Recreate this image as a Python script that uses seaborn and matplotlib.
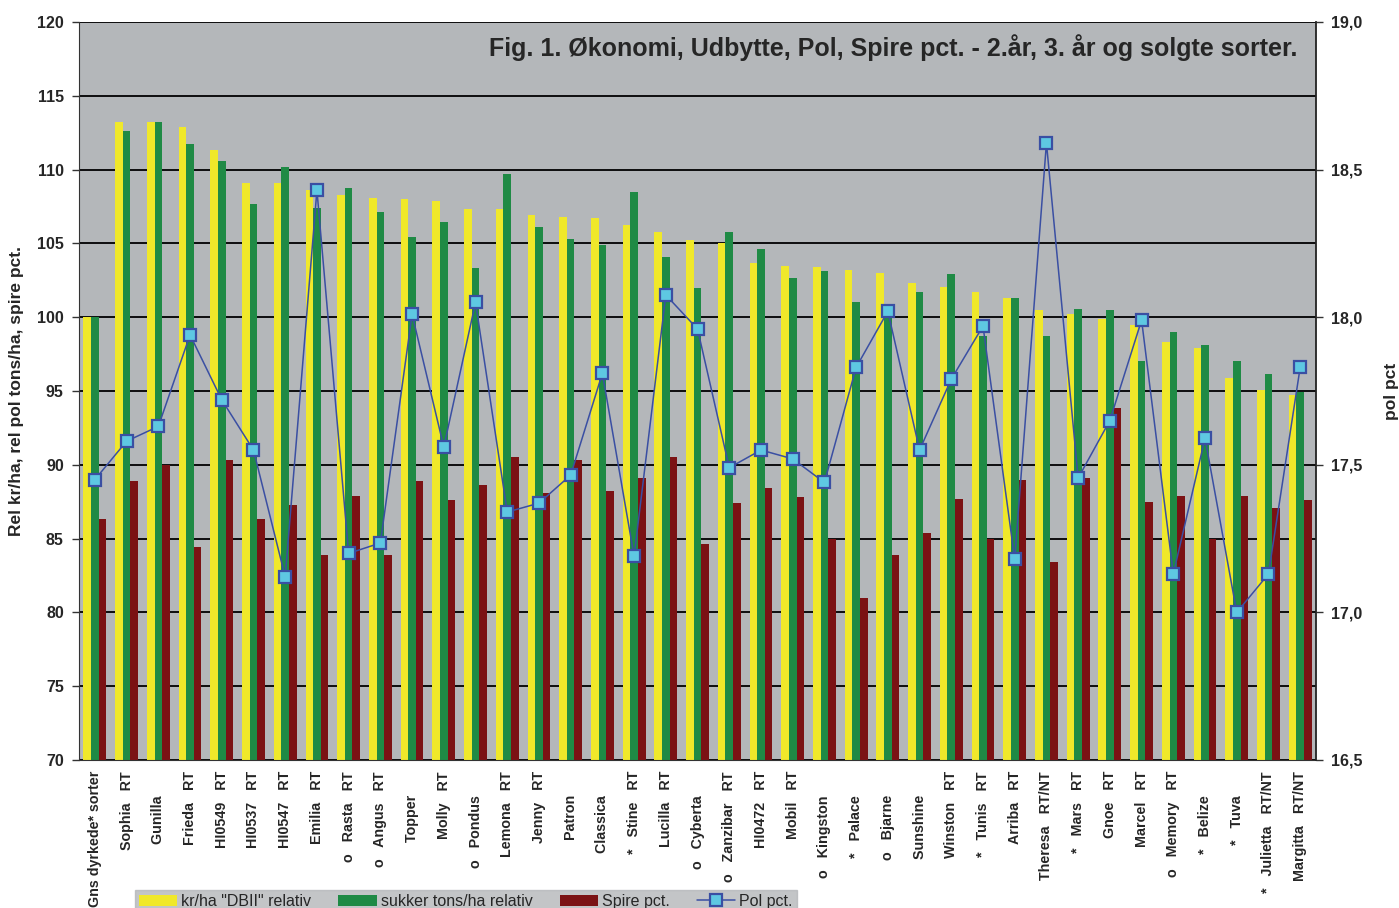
import numpy as np
import pandas as pd
import matplotlib
matplotlib.use("Agg")
import matplotlib.pyplot as plt
import seaborn as sns

sns.set_style("white")
plt.rcParams['font.family'] = ['Liberation Sans', 'DejaVu Sans']

# sort labels (rotated under the axis)
sorter = ["Gns dyrkede* sorter", "Sophia   RT", "Gunilla      ", "Frieda   RT", "HI0549   RT",
          "HI0537   RT", "HI0547   RT", "Emilia   RT", "o   Rasta   RT", "o   Angus   RT",
          "Topper      ", "Molly   RT", "o   Pondus      ", "Lemona   RT", "Jenny   RT",
          "Patron      ", "Classica      ", "*   Stine   RT", "Lucilla   RT", "o   Cyberta      ",
          "o   Zanzibar   RT", "HI0472   RT", "Mobil   RT", "o   Kingston      ", "*   Palace      ",
          "o   Bjarne      ", "Sunshine      ", "Winston   RT", "*   Tunis   RT", "Arriba   RT",
          "Theresa   RT/NT", "*   Mars   RT", "Gnoe   RT", "Marcel   RT", "o   Memory   RT",
          "*   Belize      ", "*   Tuva      ", "*   Julietta   RT/NT", "Margitta   RT/NT"]

kr_ha = [100.0, 113.2, 113.2, 112.9, 111.3, 109.1, 109.1, 108.6, 108.3, 108.1,
         108.0, 107.9, 107.3, 107.3, 106.9, 106.8, 106.7, 106.25, 105.8, 105.2,
         105.0, 103.7, 103.5, 103.4, 103.2, 103.0, 102.3, 102.05, 101.7, 101.3,
         100.5, 100.2, 99.9, 99.5, 98.3, 97.9, 95.9, 95.1, 94.7]
sukker = [100.0, 112.6, 113.2, 111.7, 110.6, 107.7, 110.2, 107.4, 108.75, 107.1,
          105.4, 106.45, 103.3, 109.7, 106.1, 105.3, 104.9, 108.5, 104.1, 102.0,
          105.8, 104.6, 102.65, 103.1, 101.0, 100.3, 101.7, 102.9, 98.7, 101.3,
          98.7, 100.55, 100.5, 97.0, 99.0, 98.1, 97.0, 96.15, 94.9]
spire = [86.3, 88.9, 90.0, 84.4, 90.3, 86.3, 87.3, 83.9, 87.9, 83.9,
         88.9, 87.6, 88.6, 90.5, 88.1, 90.3, 88.2, 89.1, 90.5, 84.6,
         87.4, 88.4, 87.8, 85.0, 81.0, 83.9, 85.4, 87.7, 85.0, 89.0,
         83.4, 89.1, 93.85, 87.5, 87.9, 85.0, 87.9, 87.1, 87.6]
pol = [17.45, 17.58, 17.63, 17.94, 17.72, 17.55, 17.12, 18.43, 17.20, 17.235,
       18.01, 17.56, 18.05, 17.34, 17.37, 17.465, 17.81, 17.19, 18.075, 17.96,
       17.49, 17.55, 17.52, 17.44, 17.83, 18.02, 17.55, 17.79, 17.97, 17.18,
       18.59, 17.455, 17.65, 17.99, 17.13, 17.59, 17.0, 17.13, 17.83]

series_names = ['kr/ha "DBII" relativ', 'sukker tons/ha relativ', 'Spire pct.']
colors = ['#f0e82a', '#1f8a45', '#7b1214']
bg = '#b4b7ba'

df = pd.DataFrame({'sort': sorter, series_names[0]: kr_ha,
                   series_names[1]: sukker, series_names[2]: spire})
long = df.melt(id_vars='sort', var_name='serie', value_name='vaerdi')

fig = plt.figure(figsize=(13.99, 9.08), dpi=100)
ax = fig.add_axes([0.0565, 0.163, 0.8842, 0.8128])
ax.set_facecolor(bg)

sns.barplot(data=long, x='sort', y='vaerdi', hue='serie', hue_order=series_names,
            palette=colors, width=0.72, gap=0, saturation=1, linewidth=0,
            errorbar=None, ax=ax)
ax.set_ylim(70, 120)
ax.set_xlim(-0.5, len(sorter) - 0.5)
ax.set_yticks(np.arange(70, 121, 5))
ax.yaxis.grid(True, color='black', linewidth=1.3)
ax.set_axisbelow(True)
ax.set_xlabel('')
ax.set_ylabel('Rel kr/ha, rel pol tons/ha, spire pct.', fontsize=12.5,
              fontweight='bold', labelpad=9)
ax.tick_params(axis='y', labelsize=11.5, length=5, width=1, color='#333333', pad=6)
for t in ax.get_yticklabels():
    t.set_fontweight('bold')

ax.set_xticks(range(len(sorter)))
ax.set_xticklabels(sorter, rotation=90, fontsize=10.3, fontweight='bold', va='top', ha='center')
ax.tick_params(axis='x', which='major', length=0, pad=8)
ax.set_xticks(np.arange(-0.5, len(sorter), 1), minor=True)
ax.tick_params(axis='x', which='minor', length=5, width=1, color='#333333')

ax.spines['top'].set_visible(False)
ax.spines['left'].set_color('#333333')
ax.spines['bottom'].set_color('#333333')
ax.spines['right'].set_visible(False)

leg = ax.get_legend()
if leg is not None:
    leg.remove()

ax2 = ax.twinx()
sns.lineplot(x=np.arange(len(sorter)), y=pol, ax=ax2, color='#3a4fa3', linewidth=1.1,
             marker='s', markersize=8, markerfacecolor='#5ec8e2',
             markeredgecolor='#3a4fa3', markeredgewidth=1.6, label='Pol pct.', legend=False)
ax2.set_ylim(16.5, 19.0)
ax2.set_yticks(np.arange(16.5, 19.01, 0.5))
ax2.set_yticklabels([f'{v:.1f}'.replace('.', ',') for v in np.arange(16.5, 19.01, 0.5)],
                    fontsize=11.5, fontweight='bold')
ax2.tick_params(axis='y', length=5, width=1, color='#333333', pad=6)
ax2.set_ylabel('pol pct', fontsize=12.5, fontweight='bold', labelpad=15)
ax2.spines['top'].set_visible(False)
ax2.spines['left'].set_visible(False)
ax2.spines['bottom'].set_visible(False)
ax2.spines['right'].set_color('#222222')
ax2.spines['right'].set_linewidth(1.3)
ax2.set_xlim(-0.5, len(sorter) - 0.5)

ax.text(0.985, 0.983, 'Fig. 1. Økonomi, Udbytte, Pol, Spire pct. - 2.år, 3. år og solgte sorter.',
        transform=ax.transAxes, ha='right', va='top', fontsize=18, fontweight='bold')

h1, l1 = ax.get_legend_handles_labels()
h2, l2 = ax2.get_legend_handles_labels()
fig.legend(h1 + h2, l1 + l2, loc='upper left', bbox_to_anchor=(135 / 1399, 18 / 908),
           ncol=4, frameon=True, facecolor=bg, edgecolor=bg, fancybox=False,
           fontsize=11.5, handlelength=2.4, handleheight=0.7, columnspacing=1.7,
           handletextpad=0.25, borderpad=0.25, borderaxespad=0)

fig.savefig('out.png', dpi=100)
